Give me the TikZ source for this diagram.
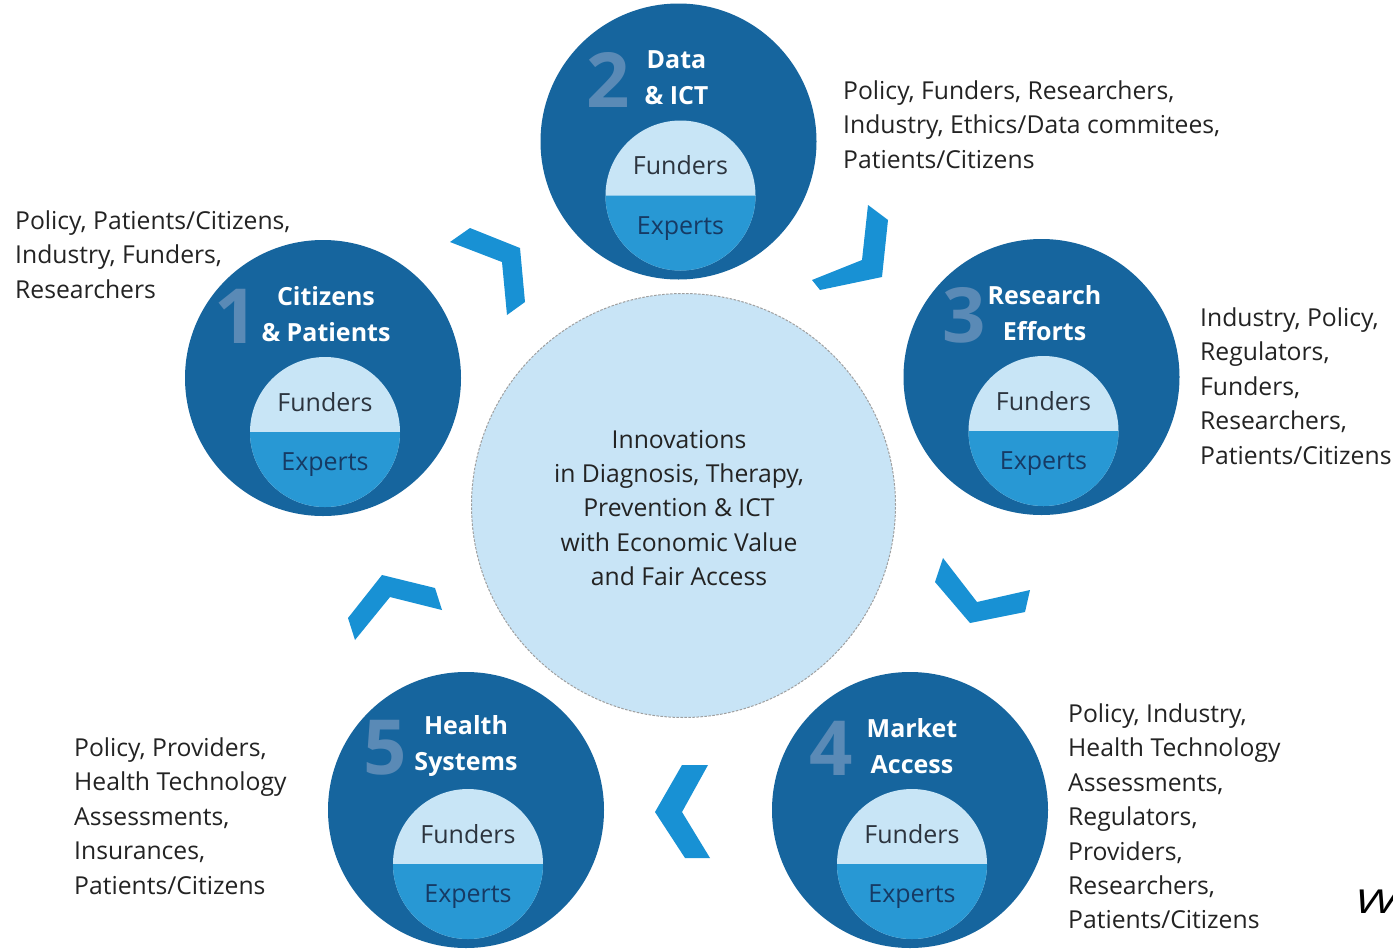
\documentclass[tikz,border=0pt]{standalone}
\usepackage{fontspec}
\setmainfont{Open Sans}
\usetikzlibrary{calc}
\definecolor{darkb}{RGB}{22,101,158}
\definecolor{numc}{RGB}{90,138,182}
\definecolor{lightin}{RGB}{200,229,246}
\definecolor{midin}{RGB}{40,152,212}
\definecolor{expc}{RGB}{22,58,100}
\definecolor{func}{RGB}{44,52,62}
\definecolor{sidec}{RGB}{35,35,35}
\definecolor{centf}{RGB}{200,228,246}
\definecolor{chevc}{RGB}{24,145,212}
\tikzset{
  outerc/.style={circle,fill=darkb,minimum size=276pt,inner sep=0pt,outer sep=0pt},
  innerc/.style={circle,fill=lightin,minimum size=150pt,inner sep=0pt,outer sep=0pt},
  funtxt/.style={text=func,font=\fontsize{25}{30}\selectfont,inner sep=0pt},
  exptxt/.style={text=expc,font=\fontsize{25}{30}\selectfont,inner sep=0pt},
  titletxt/.style={text=white,font=\bfseries\fontsize{25}{36}\selectfont,align=center,inner sep=0pt},
  numtxt/.style={text=numc,font=\bfseries\fontsize{76}{80}\selectfont,inner sep=0pt},
  sidetxt/.style={text=sidec,font=\fontsize{24.7}{34.4}\selectfont,align=left,anchor=north west,inner sep=0pt},
  centerc/.style={circle,fill=centf,draw=gray!75,line width=1pt,dash pattern=on 2.5pt off 1.5pt,minimum size=424pt,inner sep=0pt},
  chev/.style={fill=chevc}
}
\newcommand\stagecirc[7]{%
  \node[outerc] (#1) at (#2,#3) {};
  \node[innerc] (#1i) at ($(#1)+(2,54)$) {};
  \fill[midin] (#1i.west) arc[start angle=180,end angle=360,radius=75pt] -- cycle;
  \node[funtxt] (#1f) at ($(#1i)+(0,-30)$) {Funders};
  \node[exptxt] (#1e) at ($(#1i)+(0,33)$) {Experts};
  \node[titletxt] (#1t) at ($(#1)+(#6,-64)$) {#5};
  \node[numtxt,anchor=east] (#1n) at ($(#1t.west)+(#7,2)$) {#4};
}
\begin{document}
\begin{tikzpicture}[x=1pt,y=-1pt]
\useasboundingbox (0,0) rectangle (1393,951);
\fill[white] (0,0) rectangle (1393,951);
% centre
\node[centerc] (c) at (683.5,505.5) {};
\node[text=sidec,font=\fontsize{24.7}{34.4}\selectfont,align=center,inner sep=0pt] (ctext) at (679,508)
  {Innovations\\in Diagnosis, Therapy,\\Prevention \& ICT\\with Economic Value\\and Fair Access};
% stages
\stagecirc{s1}{323}{378}{1}{Citizens\\\& Patients}{3}{-3}
\stagecirc{s2}{678.5}{141.5}{2}{Data\\\& ICT}{-2}{-14}
\stagecirc{s3}{1041.5}{377}{3}{Research\\Efforts}{3}{-1}
\stagecirc{s4}{910}{810}{4}{Market\\Access}{2}{-13}
\stagecirc{s5}{466}{810}{5}{Health\\Systems}{0}{-7}
% side texts
\node[sidetxt] (t2) at (843,80.5) {Policy, Funders, Researchers,\\Industry, Ethics/Data commitees,\\Patients/Citizens};
\node[sidetxt] (t1) at (15,210.5) {Policy, Patients/Citizens,\\Industry, Funders,\\Researchers};
\node[sidetxt] (t3) at (1200,307.5) {Industry, Policy,\\Regulators,\\Funders,\\Researchers,\\Patients/Citizens};
\node[sidetxt] (t4) at (1068,703.5) {Policy, Industry,\\Health Technology\\Assessments,\\Regulators,\\Providers,\\Researchers,\\Patients/Citizens};
\node[sidetxt] (t5) at (74,737.5) {Policy, Providers,\\Health Technology\\Assessments,\\Insurances,\\Patients/Citizens};
% chevrons
\fill[chev] (450,242) -- (470,228) -- (520,248) -- (525,302) -- (507,315) -- (502,262) -- cycle;
\fill[chev] (868,205) -- (888,220) -- (882,277) -- (820,290) -- (812,280) -- (862,260) -- cycle;
\fill[chev] (943,558) -- (935,582) -- (970,623) -- (1025,612) -- (1030,590) -- (977,602) -- cycle;
\fill[chev] (682,765) -- (708,765) -- (682,812) -- (710,858) -- (685,858) -- (655,812) -- cycle;
\fill[chev] (348,618) -- (382,575) -- (435,588) -- (442,610) -- (390,597) -- (355,640) -- cycle;
% cut-off fragment at the right edge
\node[font=\itshape\fontsize{33}{40}\selectfont,anchor=base west,inner sep=0pt,xscale=1.5] (wfrag) at (1354,913) {W};
\end{tikzpicture}
\end{document}
